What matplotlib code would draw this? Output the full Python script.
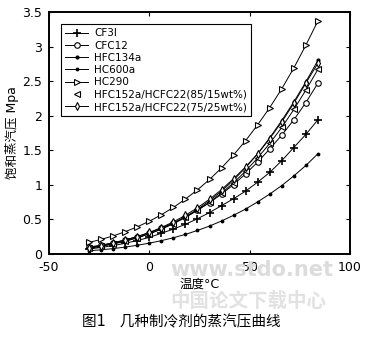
import matplotlib
matplotlib.use("Agg")
import matplotlib.pyplot as plt

plt.rcParams['font.family'] = ['DejaVu Sans', 'Noto Sans CJK SC']

temps = [-30, -24, -18, -12, -6, 0, 6, 12, 18, 24, 30, 36, 42, 48, 54, 60, 66, 72, 78, 84]

cf3i = [0.072, 0.095, 0.122, 0.155, 0.195, 0.24, 0.30, 0.36, 0.43, 0.51, 0.60, 0.70,
        0.80, 0.91, 1.04, 1.18, 1.35, 1.54, 1.73, 1.94]
cfc12 = [0.100, 0.128, 0.163, 0.204, 0.252, 0.309, 0.375, 0.449, 0.535, 0.633, 0.743,
         0.866, 1.005, 1.160, 1.33, 1.52, 1.72, 1.94, 2.19, 2.47]
hfc134a = [0.084, 0.111, 0.145, 0.185, 0.234, 0.293, 0.362, 0.443, 0.538, 0.646, 0.770,
           0.911, 1.07, 1.25, 1.45, 1.68, 1.93, 2.20, 2.49, 2.80]
hc600a = [0.047, 0.061, 0.078, 0.100, 0.126, 0.157, 0.193, 0.235, 0.284, 0.341, 0.404,
          0.478, 0.560, 0.651, 0.754, 0.867, 0.99, 1.13, 1.28, 1.45]
hc290 = [0.168, 0.211, 0.262, 0.323, 0.393, 0.474, 0.568, 0.674, 0.795, 0.928, 1.078,
         1.246, 1.434, 1.640, 1.870, 2.117, 2.39, 2.69, 3.02, 3.37]
mix85 = [0.087, 0.114, 0.148, 0.189, 0.236, 0.292, 0.359, 0.438, 0.528, 0.632, 0.749,
         0.883, 1.03, 1.20, 1.39, 1.60, 1.83, 2.09, 2.37, 2.67]
mix75 = [0.094, 0.122, 0.159, 0.202, 0.252, 0.311, 0.383, 0.465, 0.560, 0.669, 0.792,
         0.932, 1.09, 1.26, 1.45, 1.67, 1.91, 2.18, 2.47, 2.76]

labels = ["CF3I", "CFC12", "HFC134a", "HC600a", "HC290",
          "HFC152a/HCFC22(85/15wt%)", "HFC152a/HCFC22(75/25wt%)"]
xticks = [-50, 0, 50, 100]
yticks = [0, 0.5, 1, 1.5, 2, 2.5, 3, 3.5]

fig = plt.figure(figsize=(3.65, 3.39), dpi=100)
ax = fig.add_axes([49/365, 1-254/339, 301/365, 242/339])

lw = 0.7
ms = 4
ax.plot(temps, cf3i, color='k', lw=lw, marker='+', ms=6, mew=1.2, label=labels[0])
ax.plot(temps, cfc12, color='k', lw=lw, marker='o', ms=ms, mfc='white', mew=0.8, label=labels[1])
ax.plot(temps, hfc134a, color='k', lw=lw, marker='.', ms=4, label=labels[2])
ax.plot(temps, hc600a, color='k', lw=lw, marker='.', ms=3.5, label=labels[3])
ax.plot(temps, hc290, color='k', lw=lw, marker='>', ms=ms, mfc='white', mew=0.8, label=labels[4])
ax.plot(temps, mix85, color='k', lw=lw)
ax.plot(temps, mix85, color='k', ls='none', marker='<', ms=ms, mfc='white', mew=0.8, label=labels[5])
ax.plot(temps, mix75, color='k', lw=lw, marker='d', ms=ms, mfc='white', mew=0.8, label=labels[6])

ax.set_xlim(-50, 100)
ax.set_ylim(0, 3.5)
ax.set_xticks(xticks)
ax.set_yticks(yticks)
ax.set_yticklabels(['%g' % v for v in yticks])
ax.set_xticklabels(['%g' % v for v in xticks])
ax.tick_params(direction='in', top=True, right=True, length=3, width=0.8, labelsize=9, pad=5)
for s in ax.spines.values():
    s.set_linewidth(1.4)

leg = ax.legend(loc='upper left', bbox_to_anchor=(0.04, 0.95), borderaxespad=0,
                fontsize=7.5, handlelength=2.2, labelspacing=0.22, handletextpad=0.6,
                borderpad=0.4, fancybox=False, framealpha=1, edgecolor='k')
leg.get_frame().set_linewidth(0.8)

ax.set_ylabel('饱和蒸汽压 Mpa', fontsize=9, labelpad=2)
ax.set_xlabel('温度°C', fontsize=9, labelpad=3)

# watermark
fig.text(0.69, 1-270/339, 'www.stdo.net', fontsize=15, fontweight='bold', color='#dcdcdc',
         ha='center', va='center', zorder=0)
fig.text(0.68, 1-301/339, '中国论文下载中心', fontsize=14, fontweight='bold', color='#e2e2e2',
         ha='center', va='center', zorder=0)

fig.text(181/365, 1-322/339, '图1   几种制冷剂的蒸汽压曲线', fontsize=10.5, ha='center', va='center')

fig.savefig('out.png', dpi=100)
